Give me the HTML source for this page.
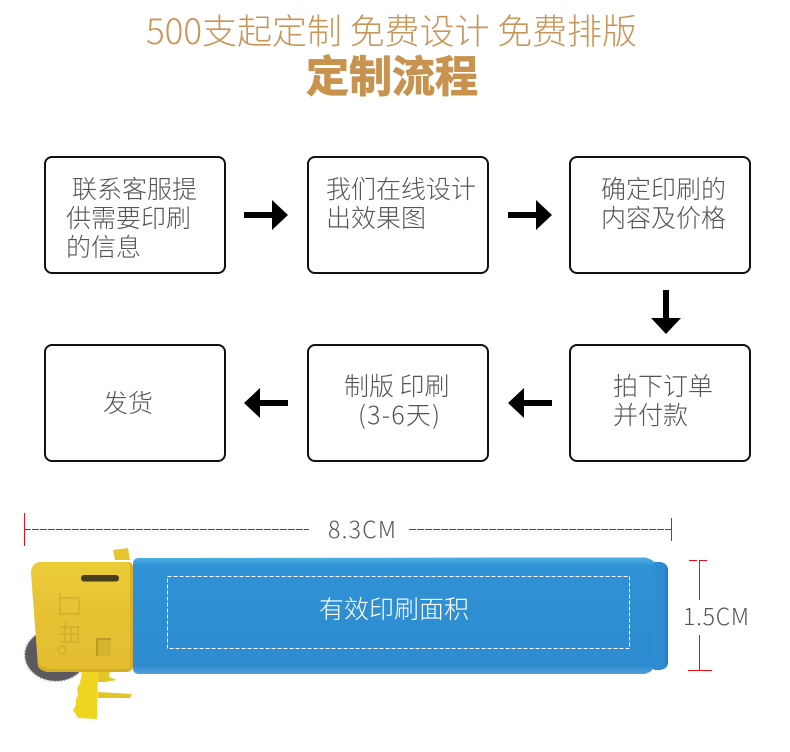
<!DOCTYPE html>
<html lang="zh"><head><meta charset="utf-8"><style>
html,body{margin:0;padding:0;background:#fff;width:790px;height:752px;overflow:hidden}
svg{display:block}
text{font-family:"Liberation Sans","Noto Sans CJK SC",sans-serif}
.cj{font-family:"Noto Sans CJK SC","Liberation Sans",sans-serif;font-weight:300}
.b{font-size:25px;fill:#555}
.box{fill:#fff;stroke:#111;stroke-width:2}
</style></head><body>
<svg width="790" height="752" viewBox="0 0 790 752" xmlns="http://www.w3.org/2000/svg">
<defs>
<linearGradient id="bl" x1="0" y1="0" x2="0" y2="1"><stop offset="0" stop-color="#4fb0e2"/><stop offset=".07" stop-color="#2f92d4"/><stop offset=".93" stop-color="#2e8bd0"/><stop offset="1" stop-color="#559fdb"/></linearGradient>
<linearGradient id="tip" x1="0" y1="0" x2="1" y2="0"><stop offset="0" stop-color="#2f8fd2"/><stop offset=".75" stop-color="#2c8bcf"/><stop offset="1" stop-color="#2279be"/></linearGradient>
<linearGradient id="cap" x1="0" y1="0" x2="0" y2="1"><stop offset="0" stop-color="#eccb38"/><stop offset=".5" stop-color="#e6c233"/><stop offset="1" stop-color="#e3bd30"/></linearGradient>
</defs>
<text class="cj" x="146" y="44" font-size="35" fill="#c9965a" textLength="491">500支起定制 免费设计 免费排版</text>
<text x="306" y="92" font-size="43" fill="#c8924f" stroke="#c8924f" stroke-width="1" class="cj" style="font-weight:700" textLength="172">定制流程</text>

<rect class="box" x="45" y="157" width="180" height="116" rx="7"/>
<rect class="box" x="308" y="157" width="180" height="116" rx="7"/>
<rect class="box" x="570" y="157" width="180" height="116" rx="7"/>
<rect class="box" x="45" y="345" width="180" height="116" rx="7"/>
<rect class="box" x="308" y="345" width="180" height="116" rx="7"/>
<rect class="box" x="570" y="345" width="180" height="116" rx="7"/>

<text class="cj b" x="72" y="198">联系客服提</text>
<text class="cj b" x="66" y="227">供需要印刷</text>
<text class="cj b" x="66" y="256">的信息</text>
<text class="cj b" x="326" y="198">我们在线设计</text>
<text class="cj b" x="326" y="227">出效果图</text>
<text class="cj b" x="601" y="198">确定印刷的</text>
<text class="cj b" x="601" y="227">内容及价格</text>
<text class="cj b" x="103" y="412">发货</text>
<text class="cj b" x="344" y="395">制版 印刷</text>
<text class="cj b" x="358" y="424" textLength="82">(3-6天)</text>
<text class="cj b" x="613" y="395">拍下订单</text>
<text class="cj b" x="613" y="424">并付款</text>

<g fill="#000">
<path d="M244 212h28v-12l16 15-16 15v-12h-28z"/>
<path d="M508 212h28v-12l16 15-16 15v-12h-28z"/>
<path d="M663 290h6v28h12l-15 16-15-16h12z"/>
<path d="M288 400h-28v-12l-16 15 16 15v-12h28z"/>
<path d="M552 400h-28v-12l-16 15 16 15v-12h28z"/>
</g>

<!-- dimension lines -->
<g stroke="#f00c14" stroke-width="1" fill="none">
<path d="M24.500 513v33"/>
<path d="M24 529.500h285" stroke-dasharray="7 1"/>
<path d="M671.500 518v23"/>
<path d="M409 529.500h262" stroke-dasharray="7 1"/>
<path d="M689 560.500h20" stroke-dasharray="8 2"/>
<path d="M699.500 561v39M699.500 635v35"/>
<path d="M688 670.500h24"/>
</g>
<text class="cj" x="328" y="538" font-size="23" fill="#555" textLength="68">8.3CM</text>
<text class="cj" x="683" y="625" font-size="23" fill="#555" textLength="66">1.5CM</text>

<!-- wheel -->
<ellipse cx="56" cy="655" rx="31" ry="26" fill="#5c585f"/>
<ellipse cx="56" cy="655" rx="31" ry="26" fill="none" stroke="#85828a" stroke-width="2" stroke-dasharray="1 2"/>
<!-- tabs and lever -->
<path d="M113 550l15-2 2 12h-15z" fill="#e6c52f"/>
<path d="M98 671l12 0-1 6 8 3-12 2h-7z" fill="#e3c52a"/>
<path d="M98 692l34 2-2 4h-32z" fill="#e3c52a"/>
<path d="M82 672h16l-1 47-19-1-5-8 3-5 0-6 2-4-1-7 3-5z" fill="#efd422"/>
<!-- blue body -->
<path d="M133 564q0-6 6-6l395-.500h112l6 2.500 2 2h6q8 1 8 9v90q0 7-8 8l-7 0-3 3-5 2H139q-6 0-6-6z" fill="url(#bl)"/>
<path d="M654 562q-2 50 0 108l6 0q8-1 8-8v-91q0-8-8-9z" fill="url(#tip)"/>
<!-- cap -->
<path d="M39 562h89q5 0 5 6v98q0 5-6 6H50q-9 0-12-6l-7-93q0-9 8-11z" fill="url(#cap)"/>
<path d="M127 562q6 0 6 6v98q0 5-6 6l-5-1 8-4v-102z" fill="#d8b12c"/>
<path d="M37 662q3 10 13 10h77v-3H52q-9 0-15-7z" fill="#d3ad2a"/>
<rect x="81" y="575" width="38" height="6.500" rx="3.200" fill="#473c1c"/>
<rect x="96" y="638" width="15" height="18" fill="#bb9a28"/>
<rect x="98" y="640" width="13" height="16" fill="#d5b52e"/>
<g fill="none" stroke="#d2ae30" stroke-width="1.500">
<rect x="60" y="598" width="19" height="16"/>
<path d="M60 594v3M60 627h19M60 634h19M60 642h19M65 622v20M71 627v15M78 627v15"/>
<circle cx="62" cy="650" r="4"/>
</g>
<rect x="167.500" y="576.500" width="462" height="72" fill="none" stroke="#fff" stroke-width="1" stroke-dasharray="4 2"/>
<text class="cj" x="319" y="618" font-size="25" fill="#fff" textLength="150">有效印刷面积</text>
</svg>
</body></html>
